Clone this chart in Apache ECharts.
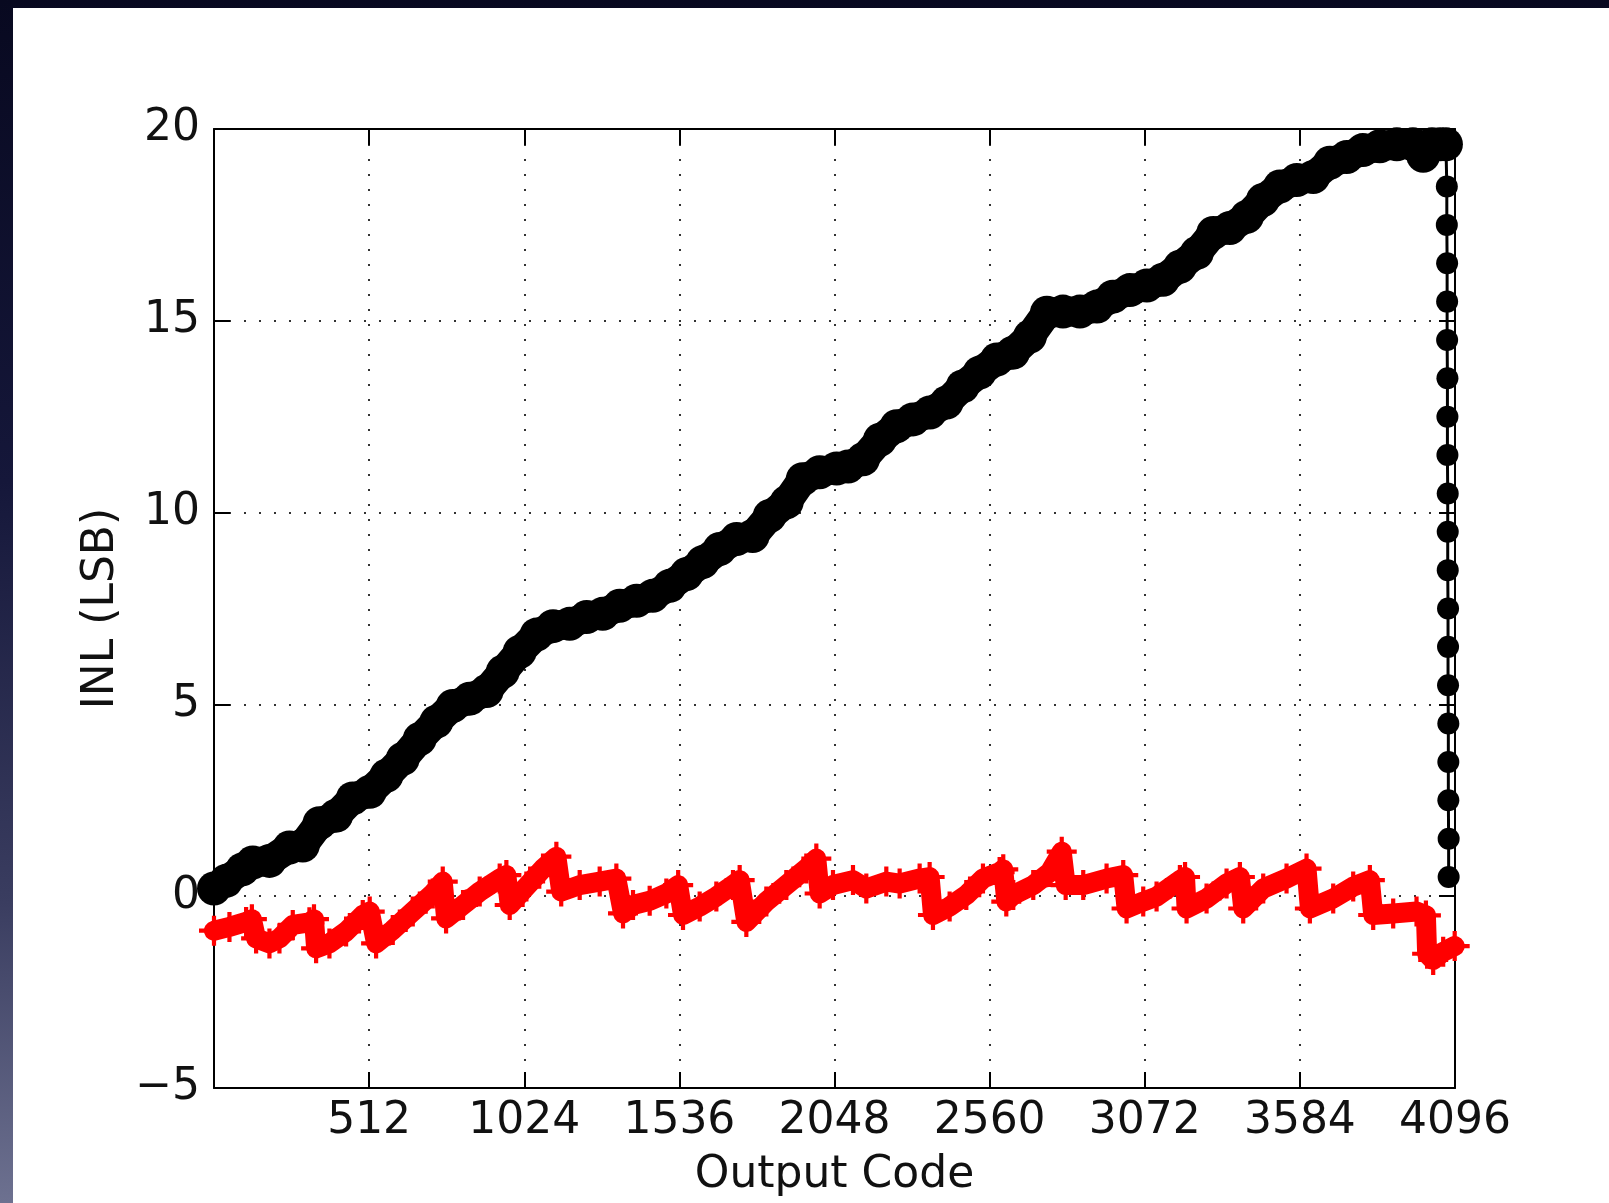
<!DOCTYPE html>
<html>
<head>
<meta charset="utf-8">
<title>INL</title>
<script src="https://cdn.jsdelivr.net/npm/echarts@6.0.0/dist/echarts.min.js"></script>
<style>
  html, body { margin: 0; padding: 0; width: 1609px; height: 1203px; overflow: hidden; }
  body { background: linear-gradient(to bottom, #080920 0%, #15173a 40%, #3a3d60 75%, #6d7190 100%); }
  #chart { position: absolute; left: 13px; top: 8px; width: 1596px; height: 1195px; background: #fff; }
</style>
</head>
<body>
<div id="chart"></div>
<script>
// values: [output code, INL in LSB]
var blackInl = [
  [0, 0.2], [40, 0.4], [94, 0.7], [128, 0.88], [183, 0.92], [249, 1.27], [293, 1.32], [348, 1.9],
  [403, 2.1], [458, 2.55], [514, 2.72], [569, 3.14], [623, 3.58], [679, 4.1], [734, 4.55], [788, 4.96],
  [844, 5.15], [900, 5.35], [953, 5.85], [1009, 6.37], [1065, 6.82], [1119, 7.04], [1174, 7.1], [1230, 7.28],
  [1283, 7.36], [1339, 7.57], [1395, 7.7], [1448, 7.83], [1504, 8.09], [1560, 8.4], [1613, 8.71], [1669, 9.05],
  [1725, 9.31], [1778, 9.39], [1834, 9.91], [1890, 10.27], [1943, 10.87], [1999, 11.05], [2055, 11.15], [2093, 11.2],
  [2142, 11.39], [2198, 11.9], [2253, 12.25], [2307, 12.43], [2363, 12.61], [2418, 12.87], [2471, 13.29], [2527, 13.65],
  [2584, 13.99], [2637, 14.17], [2693, 14.59], [2749, 15.21], [2802, 15.24], [2858, 15.24], [2914, 15.37], [2967, 15.63],
  [3023, 15.8], [3079, 15.92], [3132, 16.07], [3188, 16.41], [3244, 16.77], [3298, 17.29], [3353, 17.42], [3409, 17.71],
  [3462, 18.15], [3518, 18.5], [3574, 18.67], [3628, 18.75], [3683, 19.12], [3739, 19.27], [3792, 19.45], [3848, 19.55],
  [3904, 19.6], [3957, 19.6], [3991, 19.3], [4020, 19.6], [4047, 19.6], [4066, 19.6]
]
// last codes: black INL falls back to zero one LSB per code
var blackDrop = [
  [4066, 19.6], [4069, 18.5], [4069, 17.5], [4070, 16.5], [4070, 15.5], [4070, 14.5], [4071, 13.5], [4071, 12.5],
  [4071, 11.5], [4072, 10.5], [4072, 9.5], [4072, 8.5], [4073, 7.5], [4073, 6.5], [4073, 5.5], [4074, 4.5],
  [4074, 3.5], [4074, 2.5], [4075, 1.5], [4075, 0.5]
]
var redInl = [
  [0, -0.9], [51, -0.8], [106, -0.67], [125, -0.6], [139, -1.1], [183, -1.23], [216, -1.1], [260, -0.75],
  [315, -0.68], [330, -0.6], [337, -1.36], [381, -1.23], [436, -0.92], [491, -0.49], [514, -0.4], [535, -1.23],
  [590, -0.88], [656, -0.4], [722, 0.07], [755, 0.38], [766, -0.58], [822, -0.23], [877, 0.12], [943, 0.46],
  [965, 0.55], [976, -0.23], [1031, 0.25], [1086, 0.72], [1130, 1.03], [1146, 0.12], [1207, 0.29], [1273, 0.38],
  [1328, 0.46], [1350, -0.45], [1383, -0.23], [1438, -0.12], [1493, 0.07], [1532, 0.29], [1548, -0.49], [1603, -0.27],
  [1658, -0.01], [1713, 0.29], [1735, 0.42], [1757, -0.67], [1823, -0.14], [1889, 0.29], [1955, 0.72], [1988, 0.98],
  [1999, 0.07], [2043, 0.29], [2109, 0.42], [2153, 0.2], [2219, 0.38], [2263, 0.33], [2329, 0.46], [2362, 0.5],
  [2373, -0.49], [2428, -0.27], [2483, 0.03], [2538, 0.46], [2593, 0.63], [2605, 0.7], [2615, -0.14], [2638, 0.03],
  [2704, 0.29], [2759, 0.63], [2798, 1.16], [2811, 0.29], [2869, 0.29], [2946, 0.46], [3001, 0.55], [3012, -0.32],
  [3067, -0.14], [3111, -0.01], [3188, 0.42], [3205, 0.5], [3210, -0.32], [3276, -0.06], [3342, 0.33], [3386, 0.5],
  [3397, -0.32], [3463, 0.2], [3540, 0.46], [3606, 0.72], [3617, -0.32], [3694, -0.06], [3760, 0.25], [3815, 0.42],
  [3826, -0.49], [3892, -0.45], [3969, -0.4], [4000, -0.5], [4004, -1.5], [4024, -1.66], [4057, -1.45], [4095, -1.3]
]
var xMin = 0, xMax = 4096, xStep = 512
var yMin = -5, yMax = 20, yStep = 5

var font = 'DejaVu Sans'
var plus = 'path://M0,8.6H8.6V0H11.4V8.6H20V11.4H11.4V20H8.6V11.4H0Z'

function frameAxis(pos) {
  return {
    axisLine: { show: true, onZero: false, lineStyle: { color: '#000', width: 2 } },
    axisTick: { show: true, inside: true, length: 16, lineStyle: { color: '#000', width: 2 } },
    position: pos,
  }
}
var dotted = { show: true, lineStyle: { color: '#333', width: 2, type: [2, 13] } }

var myChart = echarts.init(document.getElementById('chart'))
var option = {
  animation: false,
  backgroundColor: '#fff',
  grid: { left: 201, right: 154, top: 121, bottom: 113 },
  xAxis: [
    Object.assign(frameAxis('bottom'), {
      type: 'value', min: xMin, max: xMax, interval: xStep,
      splitLine: dotted,
      axisLabel: {
        color: '#111', fontSize: 44, fontFamily: font, margin: 12,
        formatter: function (v) { return v === 0 ? '' : String(v) },
      },
      name: 'Output Code', nameLocation: 'middle', nameGap: 66,
      nameTextStyle: { color: '#111', fontSize: 44, fontFamily: font },
    }),
    Object.assign(frameAxis('top'), {
      type: 'value', min: xMin, max: xMax, interval: xStep,
      splitLine: { show: false }, axisLabel: { show: false },
    }),
  ],
  yAxis: [
    Object.assign(frameAxis('left'), {
      type: 'value', min: yMin, max: yMax, interval: yStep,
      splitLine: dotted,
      axisLabel: {
        color: '#111', fontSize: 44, fontFamily: font, margin: 14,
        formatter: function (v) { return v < 0 ? '\u2212' + (-v) : String(v) },
      },
      name: 'INL (LSB)', nameLocation: 'middle', nameGap: 90,
      nameTextStyle: { color: '#111', fontSize: 44, fontFamily: font },
    }),
    Object.assign(frameAxis('right'), {
      type: 'value', min: yMin, max: yMax, interval: yStep,
      splitLine: { show: false }, axisLabel: { show: false },
    }),
  ],
  series: [
    {
      name: 'raw', type: 'line', data: blackInl,
      symbol: 'circle', symbolSize: 34, itemStyle: { color: '#000' },
      lineStyle: { color: '#000', width: 30, cap: 'round', join: 'round' },
      z: 3,
    },
    {
      name: 'raw end', type: 'line', data: blackDrop,
      symbol: 'circle', symbolSize: 22, itemStyle: { color: '#000' },
      lineStyle: { color: '#000', width: 3 },
      z: 3,
    },
    {
      name: 'corrected', type: 'line', data: redInl,
      symbol: plus, symbolSize: 30, itemStyle: { color: '#ff0000' },
      lineStyle: { color: '#ff0000', width: 20, cap: 'round', join: 'round' },
      z: 4,
    },
  ],
}
option && myChart.setOption(option)
</script>
</body>
</html>
